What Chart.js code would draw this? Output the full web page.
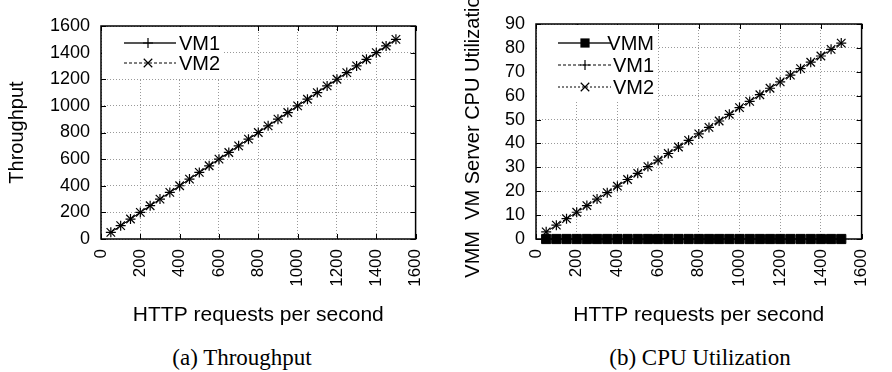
<!DOCTYPE html>
<html>
<head>
<meta charset="utf-8">
<script src="https://cdn.jsdelivr.net/npm/chart.js@4.4.0/dist/chart.umd.min.js"></script>
<style>
  body { margin: 0; background: #fff; }
  .panel { position: absolute; top: 0; width: 446px; height: 340px; }
  .caption { position: absolute; top: 345px; font-family: 'Liberation Serif', serif; font-size: 23px;
             line-height: 26px; transform: translateX(-50%); white-space: nowrap; color: #000; }
</style>
</head>
<body>
<div class="panel" style="left:0"><canvas id="thr"></canvas></div>
<div class="panel" style="left:446px"><canvas id="cpu"></canvas></div>
<div class="caption" style="left:242px">(a) Throughput</div>
<div class="caption" style="left:700px">(b) CPU Utilization</div>
<script>
// HTTP requests per second (x)
const requests = [50, 100, 150, 200, 250, 300, 350, 400, 450, 500, 550, 600, 650, 700, 750,
  800, 850, 900, 950, 1000, 1050, 1100, 1150, 1200, 1250, 1300, 1350, 1400, 1450, 1500];

// (a) throughput
const thrVM1 = [50, 100, 150, 200, 250, 300, 350, 400, 450, 500, 550, 600, 650, 700, 750,
  800, 850, 900, 950, 1000, 1050, 1100, 1150, 1200, 1250, 1300, 1350, 1400, 1450, 1500];
const thrVM2 = [50, 100, 150, 200, 250, 300, 350, 400, 450, 500, 550, 600, 650, 700, 750,
  800, 850, 900, 950, 1000, 1050, 1100, 1150, 1200, 1250, 1300, 1350, 1400, 1450, 1500];

// (b) cpu utilization
const cpuVMM = [0, 0, 0, 0, 0, 0, 0, 0, 0, 0, 0, 0, 0, 0, 0,
  0, 0, 0, 0, 0, 0, 0, 0, 0, 0, 0, 0, 0, 0, 0];
const cpuVM1 = [3, 5.8, 8.5, 11.2, 14, 16.7, 19.4, 22.1, 24.9, 27.5, 30.3, 33, 35.8, 38.5, 41.3,
  44, 46.7, 49.4, 52.2, 55, 57.6, 60.4, 63.1, 65.8, 68.6, 71.3, 74, 76.6, 79.4, 82];
const cpuVM2 = [3, 5.8, 8.5, 11.2, 14, 16.7, 19.4, 22.1, 24.9, 27.5, 30.3, 33, 35.8, 38.5, 41.3,
  44, 46.7, 49.4, 52.2, 55, 57.6, 60.4, 63.1, 65.8, 68.6, 71.3, 74, 76.6, 79.4, 82];

const xTicks = [0, 200, 400, 600, 800, 1000, 1200, 1400, 1600];
const thrTicks = [0, 200, 400, 600, 800, 1000, 1200, 1400, 1600];
const cpuTicks = [0, 10, 20, 30, 40, 50, 60, 70, 80, 90];

Chart.defaults.font.family = "'Liberation Sans', Arial, sans-serif";
Chart.defaults.color = '#000';

const pts = ys => ys.map((y, i) => ({ x: requests[i], y: y }));

function marker(ctx, style, x, y, r) {
  ctx.beginPath();
  if (style === 'rect') {
    const s = r / Math.SQRT2;
    ctx.fillRect(x - s, y - s, 2 * s, 2 * s);
    return;
  }
  if (style === 'cross') {
    ctx.moveTo(x - r, y); ctx.lineTo(x + r, y);
    ctx.moveTo(x, y - r); ctx.lineTo(x, y + r);
  } else {
    const d = r * Math.SQRT1_2;
    ctx.moveTo(x - d, y - d); ctx.lineTo(x + d, y + d);
    ctx.moveTo(x - d, y + d); ctx.lineTo(x + d, y - d);
  }
  ctx.stroke();
}

// gnuplot-like frame with inward ticks, and the key inside the plot
const gnuFrame = {
  id: 'gnuFrame',
  afterDraw(chart, args, opts) {
    const ctx = chart.ctx;
    const a = chart.chartArea;
    ctx.save();
    ctx.strokeStyle = '#000';
    ctx.lineWidth = 1;
    ctx.setLineDash([]);
    ctx.beginPath();
    chart.scales.x.ticks.forEach(t => {
      const px = Math.round(chart.scales.x.getPixelForValue(t.value)) + 0.5;
      ctx.moveTo(px, a.bottom); ctx.lineTo(px, a.bottom - 5);
      ctx.moveTo(px, a.top); ctx.lineTo(px, a.top + 5);
    });
    chart.scales.y.ticks.forEach(t => {
      const py = Math.round(chart.scales.y.getPixelForValue(t.value)) + 0.5;
      ctx.moveTo(a.left, py); ctx.lineTo(a.left + 5, py);
      ctx.moveTo(a.right, py); ctx.lineTo(a.right - 5, py);
    });
    ctx.stroke();
    ctx.lineWidth = 1.5;
    ctx.strokeRect(a.left, a.top, a.right - a.left, a.bottom - a.top);

    // key
    ctx.fillStyle = '#fff';
    ctx.fillRect(a.left + 1, a.top + 1, opts.boxW, opts.boxH);
    ctx.font = "20px 'Liberation Sans', Arial, sans-serif";
    ctx.textAlign = 'right';
    ctx.textBaseline = 'middle';
    chart.data.datasets.forEach((ds, i) => {
      const y = a.top + opts.rows[i];
      ctx.strokeStyle = ds.keyColor || ds.borderColor;
      ctx.lineWidth = ds.keyWidth || 1;
      ctx.setLineDash(ds.borderDash || []);
      ctx.beginPath();
      ctx.moveTo(a.left + opts.x0, y); ctx.lineTo(a.left + opts.x1, y);
      ctx.stroke();
      ctx.setLineDash([]);
      ctx.strokeStyle = '#000';
      ctx.fillStyle = '#000';
      ctx.lineWidth = 1.2;
      marker(ctx, ds.pointStyle, a.left + opts.xm, y, ds.pointRadius);
      ctx.fillStyle = '#000';
      ctx.fillText(ds.label, a.left + opts.textRight, y + 1);
    });
    ctx.restore();
  }
};

function gnuChart(id, datasets, yTicks, yTitle, box) {
  return new Chart(document.getElementById(id), {
    type: 'line',
    data: { datasets: datasets },
    options: {
      responsive: true,
      maintainAspectRatio: false,
      animation: false,
      layout: { padding: { top: box.top, right: box.right, left: 0, bottom: 12 } },
      plugins: { legend: { display: false }, tooltip: { enabled: false }, gnuFrame: box.key },
      scales: {
        x: {
          type: 'linear', min: xTicks[0], max: xTicks[xTicks.length - 1],
          afterBuildTicks: s => { s.ticks = xTicks.map(v => ({ value: v })); },
          ticks: { minRotation: 90, maxRotation: 90, autoSkip: false, padding: 10, font: { size: 17 },
                   callback: v => String(v) },
          grid: { color: '#999', drawTicks: false },
          border: { display: false, dash: [1, 2] },
          title: { display: true, text: 'HTTP requests per second', font: { size: 21 }, padding: { top: 0, bottom: 0 } },
          afterFit: s => { s.height = 328 - 239; }
        },
        y: {
          min: yTicks[0], max: yTicks[yTicks.length - 1],
          afterBuildTicks: s => { s.ticks = yTicks.map(v => ({ value: v })); },
          ticks: { autoSkip: false, padding: 11, font: { size: 18 }, callback: v => String(v) },
          grid: { color: '#999', drawTicks: false },
          border: { display: false, dash: [1, 2] },
          title: { display: true, text: yTitle, font: { size: 20 }, padding: { top: box.titlePad, bottom: 0 } },
          afterFit: s => { s.width = box.yWidth; }
        }
      }
    },
    plugins: [gnuFrame]
  });
}

gnuChart('thr', [
  { label: 'VM1', data: pts(thrVM1), borderColor: '#000', keyColor: '#555', keyWidth: 2, borderWidth: 1,
    pointStyle: 'cross', pointRadius: 5, pointBorderWidth: 1.2, pointBorderColor: '#000', clip: false },
  { label: 'VM2', data: pts(thrVM2), borderColor: '#000', borderWidth: 1, borderDash: [3, 2],
    pointStyle: 'crossRot', pointRadius: 6, pointBorderWidth: 1.2, pointBorderColor: '#000', clip: false }
], thrTicks, 'Throughput',
  { top: 26, right: 22, yWidth: 101, titlePad: 5,
    key: { boxW: 121, boxH: 52, x0: 23, x1: 75, xm: 47, textRight: 119, rows: [17, 37] } });

gnuChart('cpu', [
  { label: 'VMM', data: pts(cpuVMM), borderColor: '#000', keyColor: '#555', keyWidth: 2, borderWidth: 1,
    pointStyle: 'rect', pointRadius: 6.5, pointBackgroundColor: '#000', pointBorderColor: '#000', clip: false },
  { label: 'VM1', data: pts(cpuVM1), borderColor: '#000', borderWidth: 1, borderDash: [3, 2],
    pointStyle: 'cross', pointRadius: 5, pointBorderWidth: 1.2, pointBorderColor: '#000', clip: false },
  { label: 'VM2', data: pts(cpuVM2), borderColor: '#000', borderWidth: 1, borderDash: [2, 2],
    pointStyle: 'crossRot', pointRadius: 6, pointBorderWidth: 1.2, pointBorderColor: '#000', clip: false }
], cpuTicks, 'VMM  VM Server CPU Utilization',
  { top: 24, right: 13, yWidth: 90, titlePad: 15,
    key: { boxW: 121, boxH: 75, x0: 22, x1: 75, xm: 49, textRight: 118, rows: [19, 41, 63] } });
</script>
</body>
</html>
